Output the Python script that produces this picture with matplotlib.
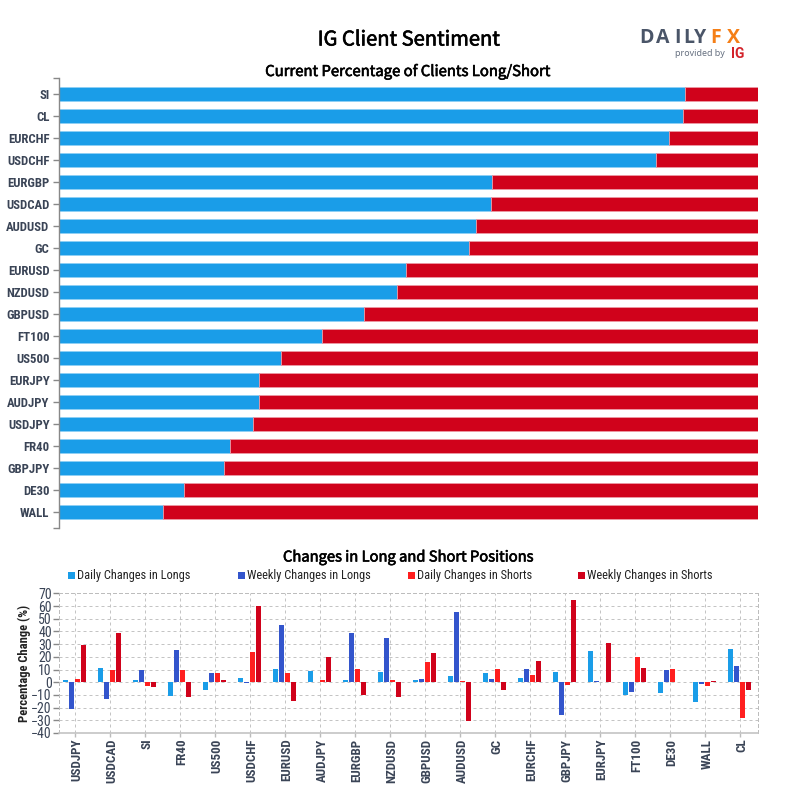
import matplotlib
matplotlib.use("Agg")
import matplotlib.pyplot as plt
from matplotlib.patches import Rectangle
from matplotlib.transforms import ScaledTranslation
from matplotlib import font_manager as fm
import matplotlib.patheffects as pe
import numpy as np

top_labels = ["SI","CL","EURCHF","USDCHF","EURGBP","USDCAD","AUDUSD","GC","EURUSD","NZDUSD",
              "GBPUSD","FT100","US500","EURJPY","AUDJPY","USDJPY","FR40","GBPJPY","DE30","WALL"]
long_pct = [89.5,89.25,87.3,85.45,61.95,61.85,59.65,58.65,49.65,48.35,43.65,37.6,31.75,28.65,28.65,27.75,24.5,23.7,17.9,14.9]

cats = ["USDJPY","USDCAD","SI","FR40","US500","USDCHF","EURUSD","AUDJPY","EURGBP","NZDUSD",
        "GBPUSD","AUDUSD","GC","EURCHF","GBPJPY","EURJPY","FT100","DE30","WALL","CL"]
daily_long = [1.8,11,2,-10.5,-6,3.5,10.5,9,2,8,1.8,5,7.3,3.5,8,24.5,-10,-8.5,-15.5,26]
weekly_long = [-21,-13,10,25,7.5,-0.5,45,0,39,35,2.5,55.3,2.5,10.3,-25.7,1,-7.7,9.5,-1.3,12.7]
daily_short = [2.6,10,-3,10,7.5,24,7.5,2,10.5,2,16,0.7,10.3,5.7,-2,0,20,10.3,-3,-28]
weekly_short = [29.5,39,-3.5,-12,2,60,-14.5,19.5,-10,-12,23,-30.5,-6,16.7,65,31,11,0,1,-6]
series_names = ["Daily Changes in Longs","Weekly Changes in Longs","Daily Changes in Shorts","Weekly Changes in Shorts"]
series_vals = [daily_long, weekly_long, daily_short, weekly_short]
series_cols = ["#1a9de8","#3355cc","#ff1f1f","#d0021b"]

names = {f.name for f in fm.fontManager.ttflist}
NARROW = next((n for n in ["Roboto Condensed","Liberation Sans Narrow","Roboto"] if n in names), "DejaVu Sans")
TITLE = "Noto Sans CJK SC"
INK = "#3a4456"
W = H = 800
fig = plt.figure(figsize=(8,8), dpi=100, facecolor="white")

def axes_px(l, t, r, b):
    return fig.add_axes([l/W, 1-b/H, (r-l)/W, (b-t)/H])

# top chart
ax = axes_px(58.7, 78.5, 758, 528)
y = np.arange(len(top_labels))
long_arr = np.array(long_pct)
ax.barh(y, long_arr, height=0.6, color="#1a9de8", edgecolor="#8fd0f5", linewidth=0.6)
ax.barh(y, 100-long_arr, left=long_arr, height=0.6, color="#d0021b", edgecolor="#ec9aa4", linewidth=0.6)
ax.set_xlim(0,100)
ax.set_ylim(19.727,-0.705)
ax.set_yticks(y, top_labels, fontfamily=NARROW, fontweight="bold", fontsize=9.2, color=INK)
ax.set_yticks([19.727,-0.705], minor=True)
ax.tick_params(axis="y", which="both", length=6*0.72, width=1, color="#888888", pad=2.3)
ax.xaxis.set_visible(False)
for s in ["top","right","bottom"]:
    ax.spines[s].set_visible(False)
ax.spines["left"].set_color("#888888")
ax.spines["left"].set_linewidth(1)

# bottom chart
ax2 = axes_px(58.7, 593.3, 758, 733)
x = np.arange(len(cats))
pitch = 6/35
for i,(vals,col) in enumerate(zip(series_vals,series_cols)):
    ax2.bar(x+(i-1.5)*pitch-0.8/35, vals, width=5/35, color=col, linewidth=0, zorder=3)
ax2.set_xlim(-0.474,19.5)
ax2.set_ylim(-40,70)
ax2.set_yticks(np.arange(-40,71,10))
ax2.set_xticks(x, cats, rotation=90, fontfamily=NARROW, fontweight="bold", fontsize=9.4, color=INK)
ax2.tick_params(axis="x", length=3, width=1, color="#bbbbbb", pad=1)
ax2.tick_params(axis="y", length=4, width=1, color="#888888", pad=1, labelcolor=INK)
shift = ScaledTranslation(1.5/100, 0, fig.dpi_scale_trans)
for t in ax2.get_xticklabels():
    t.set_transform(t.get_transform() + shift)
for t in ax2.get_yticklabels():
    t.set_fontfamily(NARROW); t.set_fontsize(10)
dash = (0,(3,3))
ax2.grid(True, color="#c4c4c4", linestyle=dash, linewidth=0.72, zorder=0)
ax2.set_axisbelow(True)
for s in ["top","right","left"]:
    ax2.spines[s].set_color("#bdbdbd")
    ax2.spines[s].set_linestyle(dash)
    ax2.spines[s].set_linewidth(0.72)
ax2.spines["bottom"].set_color("#c4c4c4"); ax2.spines["bottom"].set_linewidth(1.2)
fig.text(24.5/W, 1-663/H, "Percentage Change (%)", rotation=90, ha="center", va="center",
         fontfamily=NARROW, fontweight="bold", fontsize=9, color="#222222")

# titles
stroke = [pe.withStroke(linewidth=0.45, foreground="black")]
for tx, ty, s, fs in [(409,40,"IG Client Sentiment",14.5),
                      (408,72,"Current Percentage of Clients Long/Short",10.7),
                      (408,557.5,"Changes in Long and Short Positions",10.6)]:
    fig.text(tx/W, 1-ty/H, s, ha="center", va="center", fontfamily=TITLE, fontsize=fs,
             color="black", path_effects=stroke)

# legend
for lx, name, col in zip([68,238,408,578], series_names, series_cols):
    fig.add_artist(Rectangle((lx/W, 1-578.5/H), 7/W, 7/H, transform=fig.transFigure, facecolor=col, edgecolor="none"))
    fig.text((lx+9)/W, 1-575/H, name, ha="left", va="center", fontfamily=NARROW, fontsize=8.9, color="#222222")

# logo
for lx, ch, col in zip([639.5,656,674,683,694,710,727], "DAILYFX",
                       ["#4a5568"]*5+["#f57f17"]*2):
    fig.text(lx/W, 1-38/H, ch, ha="left", va="center", fontfamily="Open Sans", fontweight="bold", fontsize=14, color=col)
fig.text(675/W, 1-53.5/H, "provided by", ha="left", va="center", fontfamily="Noto Sans", fontsize=6.4, color="#667080")
fig.text(731/W, 1-53.5/H, "IG", ha="left", va="center", fontfamily="Roboto", fontweight="bold", fontsize=10, color="#d3222a")

fig.savefig("out.png", dpi=100)
